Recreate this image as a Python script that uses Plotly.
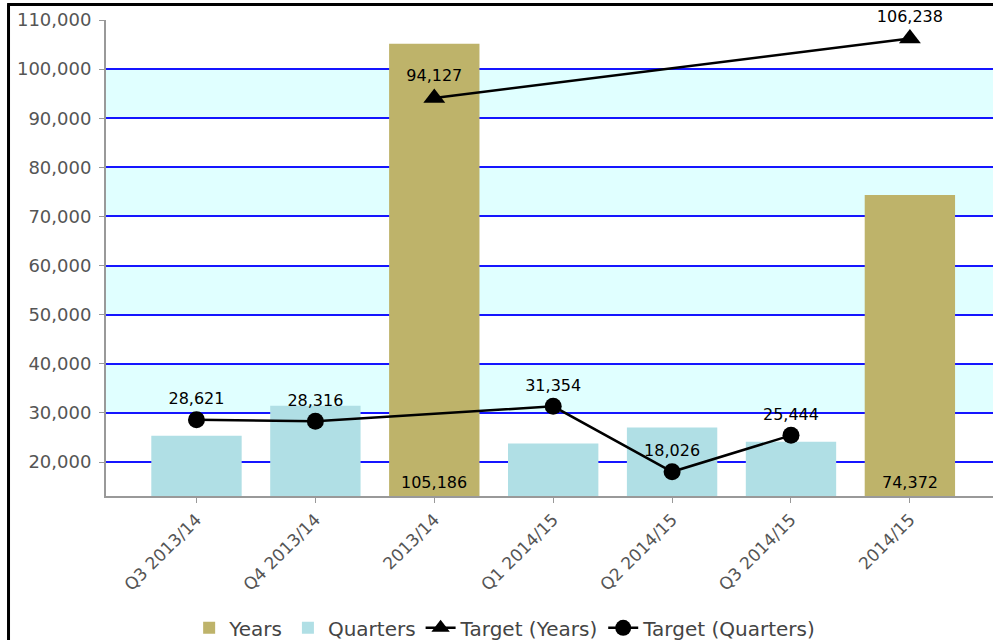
import plotly.graph_objects as go

categories = ["Q3 2013/14", "Q4 2013/14", "2013/14", "Q1 2014/15", "Q2 2014/15", "Q3 2014/15", "2014/15"]
years_values = [None, None, 105186, None, None, None, 74372]
quarters_values = [25350, 31450, None, 23800, 27050, 24150, None]
target_years = [None, None, 94127, None, None, None, 106238]
target_quarters = [28621, 28316, None, 31354, 18026, 25444, None]
y_ticks = [20000, 30000, 40000, 50000, 60000, 70000, 80000, 90000, 100000, 110000]
band_ranges = [(30000, 40000), (50000, 60000), (70000, 80000), (90000, 100000)]

FONT = "DejaVu Sans"

def fmt(v):
    return "" if v is None else f"{v:,}"

fig = go.Figure()
fig.add_trace(go.Bar(
    x=categories, y=years_values, name="Years",
    marker=dict(color="#BEB36A", line=dict(width=0)), width=0.76,
))
fig.add_trace(go.Bar(
    x=categories, y=quarters_values, name="Quarters",
    marker=dict(color="#B0DFE5", line=dict(width=0)), width=0.76,
))
fig.add_trace(go.Scatter(
    x=categories, y=target_years, name="Target (Years)", mode="lines+markers+text",
    connectgaps=True, line=dict(color="black", width=2.5),
    marker=dict(symbol="triangle-up", size=19, color="black"),
    text=[fmt(v) for v in target_years], textposition="top center",
    textfont=dict(family=FONT, size=16, color="black"), cliponaxis=False,
))
fig.add_trace(go.Scatter(
    x=categories, y=target_quarters, name="Target (Quarters)", mode="lines+markers+text",
    connectgaps=True, line=dict(color="black", width=2.5),
    marker=dict(symbol="circle", size=17, color="black"),
    text=[fmt(v) for v in target_quarters], textposition="top center",
    textfont=dict(family=FONT, size=16, color="black"), cliponaxis=False,
))

# Years bar value labels at the base of each bar
annotations = []
for cat, v in zip(categories, years_values):
    if v is not None:
        annotations.append(dict(x=cat, xref="x", y=0, yref="paper", yanchor="bottom",
                                yshift=2, text=fmt(v), showarrow=False,
                                font=dict(family=FONT, size=16, color="black")))

shapes = []
for lo, hi in band_ranges:
    shapes.append(dict(type="rect", xref="paper", yref="y", x0=0, x1=1, y0=lo, y1=hi,
                       fillcolor="#E0FFFF", line=dict(width=0), layer="below"))
# black frame (left and top edges)
shapes.append(dict(type="line", xref="paper", yref="paper", x0=-0.1099, x1=-0.1099,
                   y0=-0.5, y1=1.0326, line=dict(color="black", width=3)))
shapes.append(dict(type="line", xref="paper", yref="paper", x0=-0.1115, x1=1.1,
                   y0=1.0326, y1=1.0326, line=dict(color="black", width=3)))

fig.update_layout(
    width=993, height=640,
    margin=dict(l=106, r=0, t=20, b=144, autoexpand=False),
    barmode="overlay",
    paper_bgcolor="white", plot_bgcolor="white",
    font=dict(family=FONT, size=17, color="#555555"),
    shapes=shapes, annotations=annotations,
    showlegend=True,
    legend=dict(orientation="h", x=0.45, xanchor="center", yref="container",
                y=0.019, yanchor="middle",
                font=dict(family=FONT, size=20, color="#444444"),
                itemwidth=30, tracegroupgap=0),
    xaxis=dict(type="category", range=[-0.761, 6.699], tickangle=-45, automargin=False,
               showline=True, linecolor="#999999", linewidth=2,
               ticks="outside", ticklen=5, tickcolor="#999999", showgrid=False,
               tickfont=dict(family=FONT, size=17, color="#555555")),
    yaxis=dict(range=[13100, 110000], tickvals=y_ticks, tickformat=",", automargin=False,
               showline=True, linecolor="#999999", linewidth=2,
               ticks="outside", ticklen=5, tickcolor="#999999", ticklabelstandoff=4,
               showgrid=True, gridcolor="#1515FF", gridwidth=2, zeroline=False,
               tickfont=dict(family=FONT, size=18, color="#555555")),
)

fig.write_html("out.html", config={"displayModeBar": False},
               post_script="document.body.style.margin='0';document.body.style.overflow='hidden';")
